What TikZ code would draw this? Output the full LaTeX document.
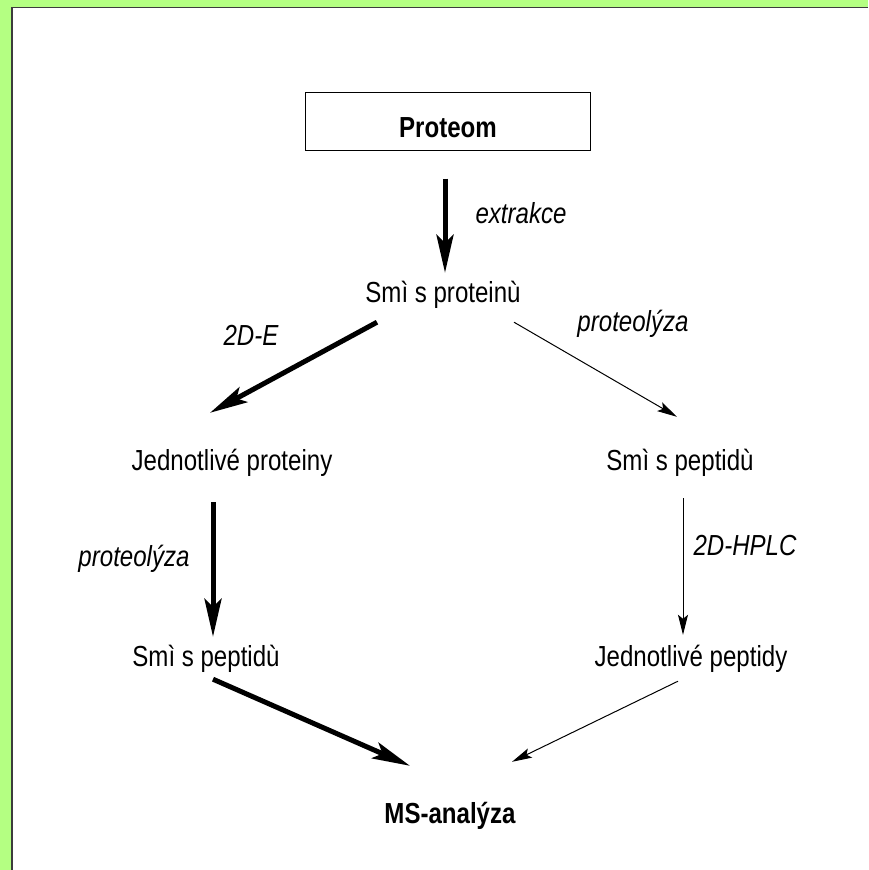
\documentclass[tikz,border=0pt]{standalone}
\usepackage{fontspec}
\setmainfont{Liberation Sans}[FakeStretch=0.83]
\usetikzlibrary{arrows.meta}
\definecolor{framegreen}{RGB}{180,255,130}
\definecolor{frameshadow}{RGB}{60,60,60}
\begin{document}
\begin{tikzpicture}[x=1pt,y=-1pt,
  txt/.style={inner sep=0pt, anchor=base, text height=21pt, text depth=6pt, font=\fontsize{29}{31}\selectfont},
  lab/.style={txt, font=\fontsize{29}{31}\selectfont\itshape},
  boldtxt/.style={txt, font=\fontsize{29}{31}\selectfont\bfseries},
  bigarrow/.style={line width=5pt, -{Stealth[length=38pt,width=17pt,inset=8pt]}},
  thinarrow/.style={line width=1pt, -{Stealth[length=20pt,width=10pt,inset=4pt]}},
]
\useasboundingbox (0,0) rectangle (868,870);
% frame
\fill[framegreen] (0,0) rectangle (868,870);
\fill[white] (12,8) rectangle (868,870);
\draw[frameshadow, line width=1.7pt] (12,870) -- (12,7.5) -- (868,7.5);

% nodes
\node[draw, line width=1pt, inner sep=0pt, minimum width=285pt, minimum height=58pt,
      text height=32pt, text depth=0pt, font=\fontsize{29}{31}\selectfont\bfseries] (P) at (448,121) {Proteom};
\node[txt] (S1) at (443,302) {Smì s proteinù};
\node[txt] (L1) at (232,470) {Jednotlivé proteiny};
\node[txt] (R1) at (680,470) {Smì s peptidù};
\node[txt] (L2) at (206,666) {Smì s peptidù};
\node[txt] (R2) at (691,666) {Jednotlivé peptidy};
\node[boldtxt] (M) at (450,823) {MS-analýza};

% labels
\node[lab] (lextr) at (521,223) {extrakce};
\node[lab] (l2de) at (251,345) {2D-E};
\node[lab] (lprotR) at (633,331) {proteolýza};
\node[lab] (lprotL) at (134,566) {proteolýza};
\node[lab] (lhplc) at (745,555) {2D-HPLC};

% connectors
\draw[bigarrow] ([shift={(-3,28)}]P.south) -- ([shift={(2,-8)}]S1.north);
\draw[bigarrow] ([shift={(-66,14)}]S1.south) -- ([shift={(-22,-36)}]L1.north);
\draw[thinarrow] ([shift={(71,14)}]S1.south) -- ([shift={(-3,-32)}]R1.north);
\draw[bigarrow] ([shift={(-19,26)}]L1.south) -- ([shift={(7,-8)}]L2.north);
\draw[thinarrow] ([shift={(3,22)}]R1.south) -- ([shift={(-8,-10)}]R2.north);
\draw[bigarrow] ([shift={(7,7)}]L2.south) -- ([shift={(-40,-36)}]M.north);
\draw[thinarrow] ([shift={(-13,9)}]R2.south) -- ([shift={(62,-40)}]M.north);
\end{tikzpicture}
\end{document}
